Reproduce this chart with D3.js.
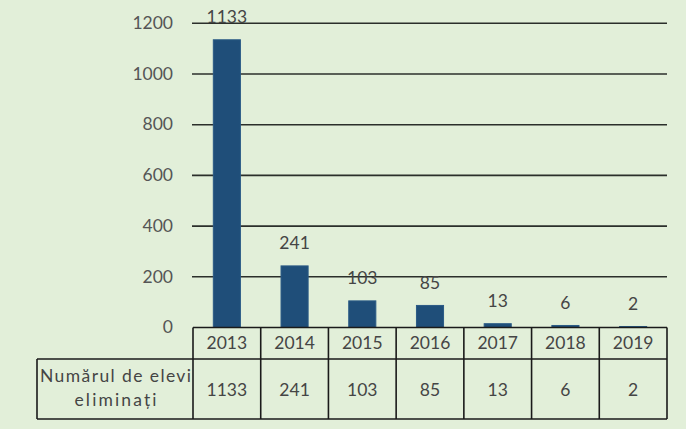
<!DOCTYPE html>
<html><head><meta charset="utf-8">
<script src="https://cdn.jsdelivr.net/npm/d3@7"></script>
<style>body{margin:0;background:#e2efd9;} svg{display:block;}</style>
</head><body>
<svg id="c" width="686" height="429"></svg>
<script>
const years = ["2013","2014","2015","2016","2017","2018","2019"];
const values = [1133, 241, 103, 85, 13, 6, 2];
const yTicks = [0, 200, 400, 600, 800, 1000, 1200];
const rowLabel = ["Numărul de elevi", "eliminați"];

const svg = d3.select("#c");
const W = 686, H = 429;
svg.append("rect").attr("width", W).attr("height", H).attr("fill", "#e2efd9");

const plotLeft = 193, plotRight = 667, plotTop = 23.3, zeroY = 327.5;
const font = "Lato, 'Open Sans', sans-serif";
const fs = 17.5;
const x = d3.scaleBand().domain(years).range([plotLeft, plotRight]).paddingInner(0.6).paddingOuter(0.3);
const xCol = d3.scaleBand().domain(years).range([plotLeft, plotRight]).padding(0);
const y = d3.scaleLinear().domain([0, 1200]).range([zeroY, plotTop]);

// gridlines
svg.append("g").selectAll("line").data(yTicks.filter(d => d > 0)).join("line")
  .attr("x1", plotLeft - 1).attr("x2", plotRight)
  .attr("y1", d => y(d)).attr("y2", d => y(d))
  .attr("stroke", "#2b2f2b").attr("stroke-width", 1.6);

// y axis labels
const yAxis = d3.axisLeft(y).tickValues(yTicks).tickSize(0).tickPadding(0).tickFormat(d3.format("d"));
const ga = svg.append("g").attr("transform", `translate(${plotLeft - 20},0)`).call(yAxis);
ga.select(".domain").remove();
ga.selectAll("text").attr("font-family", font).attr("font-size", fs).attr("fill", "#555").attr("dy", "0.3em");

// bars
svg.append("g").selectAll("rect").data(values).join("rect")
  .attr("x", (d, i) => x(years[i]))
  .attr("width", x.bandwidth())
  .attr("y", d => y(d) - 0.5)
  .attr("height", d => zeroY - y(d) + 0.5)
  .attr("fill", "#1f4e79")
  .attr("stroke", "#2a5a85").attr("stroke-width", 1);

// data labels
svg.append("g").selectAll("text").data(values).join("text")
  .attr("x", (d, i) => x(years[i]) + x.bandwidth() / 2)
  .attr("y", d => y(d) - 17)
  .attr("text-anchor", "middle")
  .attr("font-family", font).attr("font-size", fs).attr("fill", "#454545")
  .text(d => d);

// table
const r0 = zeroY, r1 = 359, r2 = 419, tLeft = 37;
const tbl = svg.append("g").attr("stroke", "#1a1a1a").attr("stroke-width", 1.6).attr("fill", "none");
tbl.append("line").attr("x1", plotLeft).attr("x2", plotRight).attr("y1", r0).attr("y2", r0);
tbl.append("line").attr("x1", tLeft).attr("x2", plotRight).attr("y1", r1).attr("y2", r1);
tbl.append("line").attr("x1", tLeft).attr("x2", plotRight).attr("y1", r2).attr("y2", r2);
tbl.append("line").attr("x1", tLeft).attr("x2", tLeft).attr("y1", r1).attr("y2", r2);
const colEdges = years.map(d => xCol(d)).concat([plotRight]);
tbl.selectAll(".v").data(colEdges).join("line").attr("class", "v")
  .attr("x1", d => d).attr("x2", d => d).attr("y1", r0).attr("y2", r2);

svg.append("g").selectAll("text").data(years).join("text")
  .attr("x", d => xCol(d) + xCol.bandwidth() / 2).attr("y", 349)
  .attr("text-anchor", "middle").attr("font-family", font).attr("font-size", fs).attr("fill", "#454545")
  .text(d => d);
svg.append("g").selectAll("text").data(values).join("text")
  .attr("x", (d, i) => xCol(years[i]) + xCol.bandwidth() / 2).attr("y", 396)
  .attr("text-anchor", "middle").attr("font-family", font).attr("font-size", fs).attr("fill", "#454545")
  .text(d => d);
svg.append("g").selectAll("text").data(rowLabel).join("text")
  .attr("x", (tLeft + plotLeft) / 2 + 0.5).attr("y", (d, i) => 382 + i * 24)
  .attr("text-anchor", "middle").attr("font-family", font).attr("font-size", fs).attr("fill", "#454545")
  .attr("textLength", (d, i) => i === 0 ? 151 : 82).attr("lengthAdjust", "spacing")
  .text(d => d);
</script>
</body></html>
